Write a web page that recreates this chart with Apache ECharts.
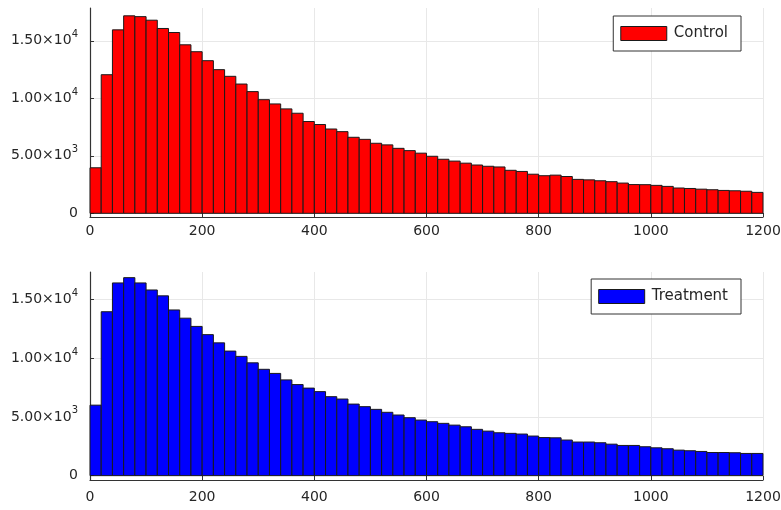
<!DOCTYPE html>
<html>
<head>
<meta charset="UTF-8">
<title>Control vs Treatment</title>
<script type="text/javascript" src="https://cdn.jsdelivr.net/npm/echarts@6/dist/echarts.min.js"></script>
<style>
  html, body { margin: 0; padding: 0; background: #fff; }
  #main { width: 781px; height: 510px; }
</style>
</head>
<body>
<div id="main"></div>
<script type="text/javascript">
// 直方图的分箱起点（宽度 20）
var binWidth = 20;
var binStarts = [0, 20, 40, 60, 80, 100, 120, 140, 160, 180,
  200, 220, 240, 260, 280, 300, 320, 340, 360, 380,
  400, 420, 440, 460, 480, 500, 520, 540, 560, 580,
  600, 620, 640, 660, 680, 700, 720, 740, 760, 780,
  800, 820, 840, 860, 880, 900, 920, 940, 960, 980,
  1000, 1020, 1040, 1060, 1080, 1100, 1120, 1140, 1160, 1180];

// 每个分箱的计数
var control = [3960, 12050, 15950, 17170, 17100, 16790, 16070, 15720, 14650, 14050,
  13270, 12490, 11910, 11240, 10580, 9880, 9510, 9080, 8700, 7980,
  7720, 7330, 7100, 6610, 6430, 6090, 5950, 5650, 5450, 5230,
  4960, 4700, 4540, 4360, 4200, 4090, 4030, 3740, 3640, 3400,
  3270, 3320, 3200, 2950, 2910, 2830, 2750, 2630, 2500, 2490,
  2430, 2340, 2200, 2160, 2100, 2050, 1990, 1960, 1920, 1820];

var treatment = [6000, 13950, 16400, 16850, 16400, 15800, 15300, 14100, 13400, 12700,
  12000, 11300, 10600, 10150, 9600, 9050, 8700, 8150, 7750, 7450,
  7150, 6720, 6520, 6090, 5870, 5640, 5390, 5160, 4930, 4730,
  4590, 4450, 4300, 4160, 3940, 3790, 3650, 3600, 3540, 3370,
  3240, 3220, 3030, 2860, 2860, 2800, 2680, 2570, 2570, 2460,
  2370, 2290, 2170, 2120, 2060, 1970, 1970, 1950, 1890, 1890];

var xTicks = [0, 200, 400, 600, 800, 1000, 1200];
var yTicks = [0, 5000, 10000, 15000];
var yTickText = {
  0: '0',
  5000: '{b|5.00×10}{s|3}',
  10000: '{b|1.00×10}{s|4}',
  15000: '{b|1.50×10}{s|4}'
};

var textColor = '#262626';
var gridColor = '#e8e8e8';

function histData(counts) {
  var out = [];
  for (var i = 0; i < counts.length; i++) {
    out.push([binStarts[i], binStarts[i] + binWidth, counts[i]]);
  }
  return out;
}

// 用坐标轴换算画每根柱子
function renderBin(params, api) {
  var p0 = api.coord([api.value(0), 0]);
  var p1 = api.coord([api.value(1), api.value(2)]);
  return {
    type: 'rect',
    shape: { x: p0[0], y: p1[1], width: p1[0] - p0[0], height: p0[1] - p1[1] },
    style: api.style({ stroke: '#1a1a1a', lineWidth: 1 })
  };
}

function xAxisOpt(idx, margin) {
  return {
    type: 'value', gridIndex: idx, min: 0, max: 1200,
    axisLine: { show: true, onZero: false, lineStyle: { color: '#333', width: 1.2 } },
    axisTick: { show: true, inside: true, length: 4, customValues: xTicks, lineStyle: { color: '#333' } },
    axisLabel: {
      customValues: xTicks, margin: margin, color: textColor, fontSize: 14, fontFamily: 'DejaVu Sans',
      formatter: function (v) { return String(v); }
    },
    splitLine: { show: true, lineStyle: { color: gridColor, width: 1 } }
  };
}

function yAxisOpt(idx, min, max) {
  return {
    type: 'value', gridIndex: idx, min: min, max: max,
    axisLine: { show: true, lineStyle: { color: '#333', width: 1.2 } },
    axisTick: { show: true, inside: true, length: 4, customValues: yTicks, lineStyle: { color: '#333' } },
    axisLabel: {
      customValues: yTicks, margin: 12, color: textColor,
      formatter: function (v) { return yTickText[v] || ''; },
      fontSize: 14, fontFamily: 'DejaVu Sans',
      rich: {
        b: { fontSize: 14, fontFamily: 'DejaVu Sans', color: textColor },
        s: { fontSize: 10, fontFamily: 'DejaVu Sans', color: textColor, padding: [0, 0, 12, 0] }
      }
    },
    splitLine: { show: true, lineStyle: { color: gridColor, width: 1 } }
  };
}

function legendOpt(name, color, top, right) {
  return {
    data: [{ name: name, icon: 'rect', itemStyle: { color: color, borderColor: '#1a1a1a', borderWidth: 1 } }],
    top: top, right: right,
    orient: 'vertical',
    itemWidth: 46, itemHeight: 14, itemGap: 0,
    padding: [10, 13, 10, 7],
    borderColor: '#333', borderWidth: 1, borderRadius: 0,
    backgroundColor: '#fff',
    textStyle: { color: textColor, fontSize: 15, fontFamily: 'DejaVu Sans', padding: [0, 0, 0, 2] }
  };
}

var myChart = echarts.init(document.getElementById('main'), null, { renderer: 'canvas' });

myChart.setOption({
  animation: false,
  backgroundColor: '#fff',
  grid: [
    { left: 90, right: 18, top: 8, height: 209, outerBoundsMode: 'none' },
    { left: 90, right: 18, top: 272, height: 208, outerBoundsMode: 'none' }
  ],
  legend: [
    legendOpt('Control', '#ff0000', 16, 40),
    legendOpt('Treatment', '#0000ff', 279, 40)
  ],
  xAxis: [xAxisOpt(0, 7), xAxisOpt(1, 10)],
  yAxis: [yAxisOpt(0, -320, 17850), yAxisOpt(1, -370, 17330)],
  series: [
    {
      name: 'Control', type: 'custom', xAxisIndex: 0, yAxisIndex: 0,
      renderItem: renderBin, itemStyle: { color: '#ff0000' },
      encode: { x: [0, 1], y: 2 },
      data: histData(control)
    },
    {
      name: 'Treatment', type: 'custom', xAxisIndex: 1, yAxisIndex: 1,
      renderItem: renderBin, itemStyle: { color: '#0000ff' },
      encode: { x: [0, 1], y: 2 },
      data: histData(treatment)
    }
  ]
});
</script>
</body>
</html>
